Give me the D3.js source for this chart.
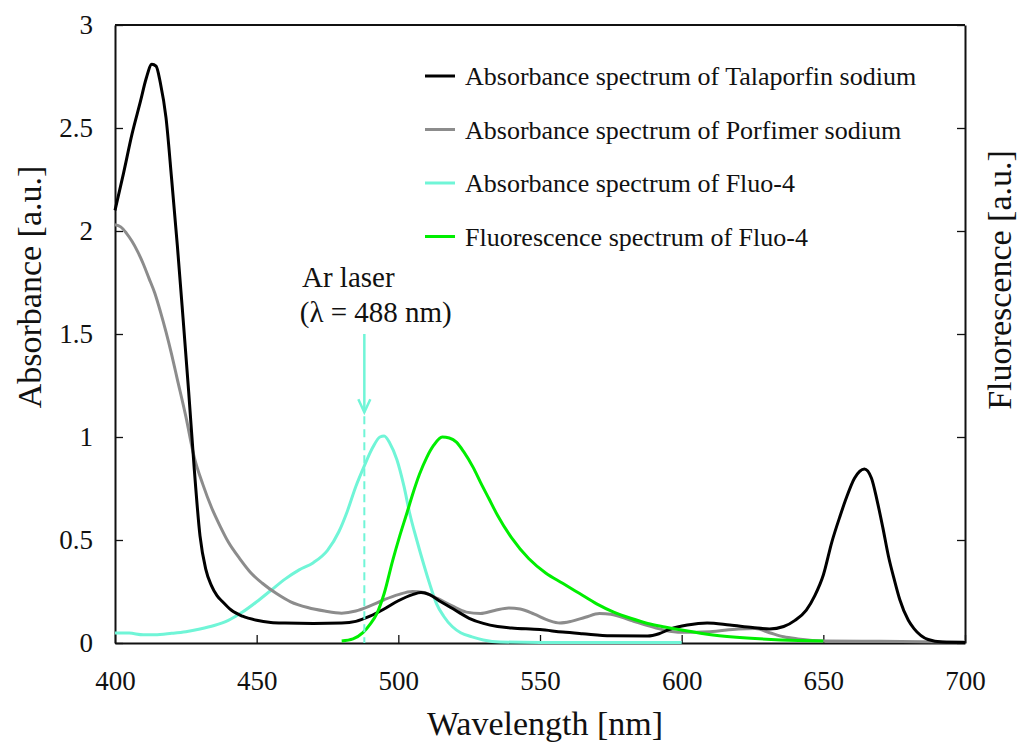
<!DOCTYPE html>
<html>
<head>
<meta charset="utf-8">
<script src="https://cdn.jsdelivr.net/npm/d3@7"></script>
<style>
  body { margin: 0; background: #fff; }
  svg text { font-family: "Liberation Serif", "Times New Roman", serif; fill: #111; }
</style>
</head>
<body>
<svg id="chart"></svg>
<script>
// 데이터 (wavelength nm, absorbance/fluorescence)
var talaporfin = [[400,2.10],[403,2.28],[406,2.47],[409,2.63],[411,2.74],[413,2.81],[414.5,2.80],[416,2.72],[418,2.55],[420,2.25],[422,1.93],[424,1.58],[426,1.22],[428,0.84],[430,0.52],[432,0.36],[434,0.28],[436,0.23],[438,0.20],[441,0.16],[445,0.13],[450,0.11],[455,0.10],[460,0.097],[470,0.095],[480,0.097],[485,0.105],[490,0.13],[495,0.165],[500,0.205],[505,0.235],[508,0.245],[511,0.235],[515,0.20],[520,0.16],[525,0.12],[530,0.095],[535,0.08],[540,0.073],[550,0.065],[558,0.053],[565,0.045],[575,0.035],[588,0.034],[592,0.045],[596,0.068],[602,0.087],[609,0.097],[617,0.087],[625,0.075],[631,0.068],[636,0.08],[640,0.11],[644,0.16],[647,0.23],[650,0.33],[653,0.49],[656,0.62],[658,0.70],[661,0.80],[664.5,0.845],[667,0.80],[669,0.69],[671,0.56],[673,0.42],[675,0.31],[677,0.21],[680,0.11],[682,0.07],[687,0.017],[692,0.005],[700,0.003]];
var porfimer = [[400,2.03],[402,2.02],[404,1.99],[406,1.95],[408,1.90],[410,1.84],[412,1.77],[414,1.70],[416,1.61],[418,1.51],[420,1.40],[422,1.28],[425,1.10],[428,0.90],[431,0.77],[434,0.66],[437,0.57],[440,0.49],[444,0.41],[448,0.34],[452,0.29],[457,0.24],[462,0.20],[468,0.172],[474,0.155],[480,0.145],[485,0.155],[490,0.18],[495,0.21],[500,0.235],[505,0.25],[509,0.245],[514,0.215],[519,0.18],[524,0.15],[529,0.143],[534,0.158],[539,0.17],[543,0.165],[548,0.14],[553,0.11],[557,0.097],[561,0.105],[566,0.125],[571,0.143],[575,0.14],[582,0.11],[588,0.085],[594,0.062],[600,0.052],[610,0.055],[620,0.068],[626,0.07],[631,0.05],[636,0.03],[641,0.02],[650,0.01],[670,0.008],[700,0.005]];
var fluoAbs = [[400,0.049],[405,0.048],[410,0.04],[414,0.04],[420,0.047],[425,0.055],[430,0.068],[435,0.085],[440,0.11],[445,0.15],[450,0.20],[455,0.255],[460,0.31],[465,0.355],[470,0.39],[475,0.45],[479,0.54],[482,0.64],[485,0.76],[488,0.86],[491,0.95],[493.5,1.0],[495,1.005],[497,0.97],[499.5,0.89],[502,0.76],[504,0.63],[506.5,0.50],[509,0.38],[511,0.29],[513.5,0.19],[516,0.13],[519,0.08],[522,0.05],[526,0.03],[530,0.015],[536,0.005],[550,0.003],[600,0.003]];
var fluoEm = [[480,0.01],[484,0.02],[487.5,0.05],[490,0.09],[492.5,0.145],[495,0.24],[498,0.40],[500.5,0.52],[503,0.63],[505,0.72],[507.5,0.82],[510,0.90],[512.5,0.96],[515.5,1.0],[518,0.995],[520.5,0.975],[523,0.93],[526.5,0.85],[529,0.78],[532,0.70],[535,0.62],[540,0.51],[546,0.41],[552,0.34],[558,0.29],[564,0.24],[570,0.19],[576,0.15],[582,0.12],[588,0.095],[594,0.078],[600,0.063],[611,0.039],[623,0.024],[635,0.015],[650,0.01]];

var seriesNames = ["Absorbance spectrum of Talaporfin sodium", "Absorbance spectrum of Porfimer sodium", "Absorbance spectrum of Fluo-4", "Fluorescence spectrum of Fluo-4"];
var seriesColors = ["#000000", "#8c8c8c", "#70f5d7", "#00ee00"];
var seriesData = [talaporfin, porfimer, fluoAbs, fluoEm];

var xTicks = [400, 450, 500, 550, 600, 650, 700];
var yTicks = [0, 0.5, 1, 1.5, 2, 2.5, 3];
var laserNm = 488, arrowTop = 1.5, arrowTip = 1.12;

var width = 1020, height = 745,
	margin = {top: 25, right: 55, bottom: 102, left: 115},
	w = width - margin.left - margin.right,
	h = height - margin.top - margin.bottom;

var svg = d3.select("#chart").attr("width", width).attr("height", height)
	.append("g").attr("transform", "translate(" + margin.left + "," + margin.top + ")");

var x = d3.scaleLinear().domain([400, 700]).range([0, w]);
var y = d3.scaleLinear().domain([0, 3]).range([h, 0]);

// 축
var yAxis = svg.append("g")
	.call(d3.axisLeft(y).tickValues(yTicks).tickFormat(d3.format("~g")).tickSizeInner(-8).tickSizeOuter(0).tickPadding(22));
var yAxisR = svg.append("g").attr("transform", "translate(" + w + ",0)")
	.call(d3.axisRight(y).tickValues(yTicks).tickFormat("").tickSizeInner(-8).tickSizeOuter(0));
var xAxis = svg.append("g").attr("transform", "translate(0," + h + ")")
	.call(d3.axisBottom(x).tickValues(xTicks).tickSizeInner(-8).tickSizeOuter(0).tickPadding(28));
svg.append("line").attr("x1", 0).attr("x2", w).attr("y1", 0).attr("y2", 0).style("stroke", "#111").style("stroke-width", "2px");

[yAxis, yAxisR, xAxis].forEach(function(a){
	a.select(".domain").style("stroke", "#111").style("stroke-width", "2px");
	a.selectAll(".tick line").style("stroke", "#111").style("stroke-width", "1.3px");
	a.selectAll(".tick text").style("font-size", "27px").style("font-family", "Liberation Serif").style("fill", "#111");
});

// 곡선
var line = d3.line()
	.x(function(d){ return x(d[0]); })
	.y(function(d){ return y(d[1]); })
	.curve(d3.curveMonotoneX);

var drawOrder = [2, 1, 0, 3];
drawOrder.forEach(function(i){
	svg.append("path")
		.datum(seriesData[i])
		.attr("d", line)
		.style("fill", "none")
		.style("stroke", seriesColors[i])
		.style("stroke-width", "3px")
		.style("stroke-linejoin", "round");
});

// Ar laser 표시
var lx = x(laserNm);
svg.append("line")
	.attr("x1", lx).attr("x2", lx).attr("y1", y(arrowTop)).attr("y2", y(arrowTip))
	.style("stroke", seriesColors[2]).style("stroke-width", "2.5px");
svg.append("path")
	.attr("d", "M" + (lx - 6) + "," + (y(arrowTip) - 13) + "L" + lx + "," + y(arrowTip) + "L" + (lx + 6) + "," + (y(arrowTip) - 13))
	.style("fill", "none").style("stroke", seriesColors[2]).style("stroke-width", "2.5px");
svg.append("line")
	.attr("x1", lx).attr("x2", lx).attr("y1", y(arrowTip) + 4).attr("y2", y(0))
	.style("stroke", seriesColors[2]).style("stroke-width", "2px").style("stroke-dasharray", "8,5");

svg.append("text").attr("x", x(466)).attr("y", 262).style("font-size", "29px").text("Ar laser");
svg.append("text").attr("x", x(465.2)).attr("y", 297).style("font-size", "29px").text("(λ = 488 nm)");

// 범례
var legend = svg.append("g").attr("class", "legend");
seriesNames.forEach(function(name, i){
	var ly = 51 + i * 53.5;
	legend.append("line")
		.attr("x1", 310).attr("x2", 340).attr("y1", ly).attr("y2", ly)
		.style("stroke", seriesColors[i]).style("stroke-width", "3px");
	legend.append("text")
		.attr("x", 350).attr("y", ly + 9)
		.style("font-size", "26px")
		.text(name);
});

// 축 제목
svg.append("text")
	.attr("x", w / 2 + 5).attr("y", h + 92)
	.attr("text-anchor", "middle").style("font-size", "34px")
	.text("Wavelength [nm]");
svg.append("text")
	.attr("transform", "translate(" + (-74) + "," + (262) + ") rotate(-90)")
	.attr("text-anchor", "middle").style("font-size", "34px")
	.text("Absorbance [a.u.]");
svg.append("text")
	.attr("transform", "translate(" + (w + 46) + "," + (255) + ") rotate(-90)")
	.attr("text-anchor", "middle").style("font-size", "34px")
	.text("Fluorescence [a.u.]");
</script>
</body>
</html>
